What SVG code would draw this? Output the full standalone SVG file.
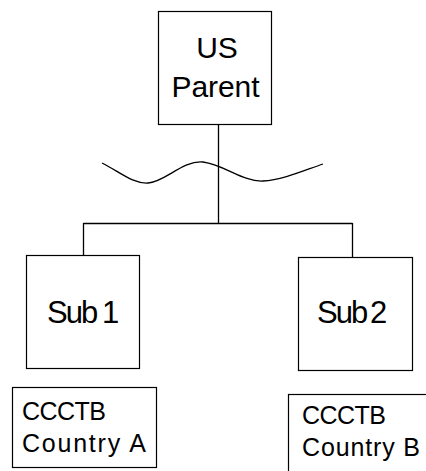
<svg xmlns="http://www.w3.org/2000/svg" width="426" height="471" viewBox="0 0 426 471">
<style>
.box{fill:#fff;stroke:#000;stroke-width:1.2}
.ln{fill:none;stroke:#000;stroke-width:1.3}
.t{font-family:"Liberation Sans",Arial,sans-serif;fill:#000}
.tight{letter-spacing:-2px}
</style>
<rect width="426" height="471" fill="#fff"/>
<g id="connectors">
<path class="ln" d="M218.5,124 V223.5 M83.5,223.5 H352.5 M83.5,223 V255 M352.5,223 V257"/>
<path class="ln" d="M102,163 C120,172 133,184 148,183 C165,182 183,160 203,162 C225,165 243,182 263,181 C283,180 305,170 323,164"/>
</g>
<g id="us-parent">
<rect class="box" x="158.5" y="11.5" width="113" height="113"/>
<text class="t" x="217" y="58" font-size="30" text-anchor="middle">US</text>
<text class="t" x="215.5" y="97" font-size="30" text-anchor="middle" textLength="88">Parent</text>
</g>
<g id="sub1">
<rect class="box" x="26.5" y="255.5" width="113" height="113"/>
<text class="t" x="47" y="323" font-size="31"><tspan class="tight">Sub</tspan> <tspan x="102">1</tspan></text>
</g>
<g id="sub2">
<rect class="box" x="298.5" y="257.5" width="114" height="113"/>
<text class="t" x="317" y="323" font-size="31"><tspan class="tight">Sub</tspan> <tspan x="370">2</tspan></text>
</g>
<g id="ccctb-a">
<rect class="box" x="12.5" y="387.5" width="144" height="80"/>
<text class="t" x="22" y="420" font-size="25" textLength="84">CCCTB</text>
<text class="t" x="22" y="452" font-size="25" textLength="124">Country A</text>
</g>
<g id="ccctb-b">
<rect class="box" x="288.5" y="394.5" width="150" height="90"/>
<text class="t" x="302" y="424" font-size="25" textLength="84">CCCTB</text>
<text class="t" x="302" y="456" font-size="25" textLength="118">Country B</text>
</g>
</svg>
